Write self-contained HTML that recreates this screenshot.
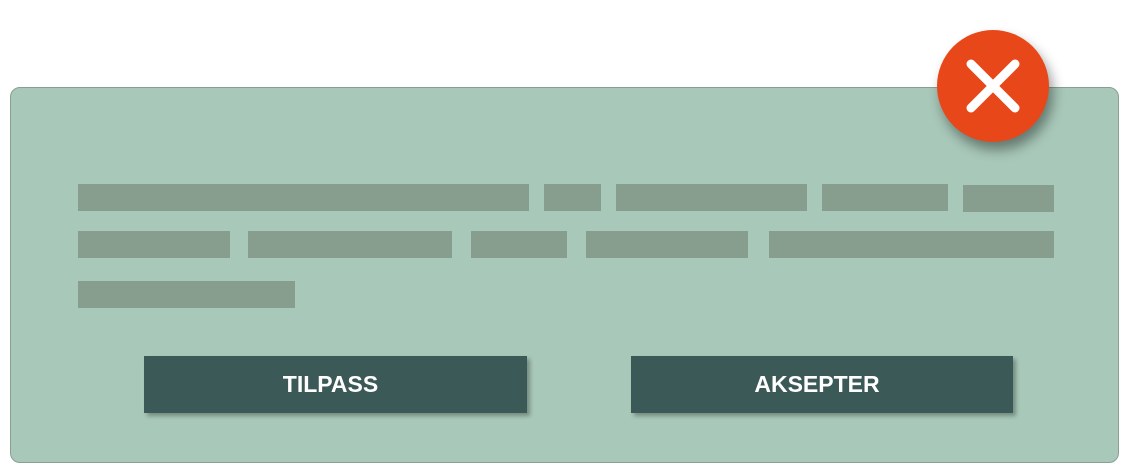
<!DOCTYPE html>
<html><head><style>
body{margin:0;width:1130px;height:470px;background:#fff;position:relative;overflow:hidden;font-family:"Liberation Sans",sans-serif}
.panel{position:absolute;left:10px;top:87px;width:1107px;height:374px;background:#a8c8b9;border:1px solid #8a9e94;border-radius:10px}
.b{position:absolute;background:#879e8f;height:27px}
.btn{position:absolute;top:356px;height:57px;background:#3b5957;color:#fff;font-weight:bold;font-size:23px;display:flex;align-items:center;justify-content:center;box-shadow:3px 3px 4px rgba(0,0,0,.3);padding-right:10px;box-sizing:border-box}
.c{position:absolute;left:937px;top:30px;width:112px;height:112px;border-radius:50%;background:#e8471a;box-shadow:4px 8px 12px rgba(0,0,0,.4)}
</style></head><body>
<div class="panel"></div>
<div class="b" style="left:78px;top:184px;width:451px"></div>
<div class="b" style="left:544px;top:184px;width:57px"></div>
<div class="b" style="left:616px;top:184px;width:191px"></div>
<div class="b" style="left:822px;top:184px;width:126px"></div>
<div class="b" style="left:963px;top:185px;width:91px"></div>
<div class="b" style="left:78px;top:231px;width:152px"></div>
<div class="b" style="left:248px;top:231px;width:204px"></div>
<div class="b" style="left:471px;top:231px;width:96px"></div>
<div class="b" style="left:586px;top:231px;width:162px"></div>
<div class="b" style="left:769px;top:231px;width:285px"></div>
<div class="b" style="left:78px;top:281px;width:217px"></div>
<div class="btn" style="left:144px;width:383px">TILPASS</div>
<div class="btn" style="left:631px;width:382px">AKSEPTER</div>
<div class="c"><svg width="112" height="112"><path d="M34 34L78 78M78 34L34 78" stroke="#fff" stroke-width="9" stroke-linecap="round"/></svg></div>
</body></html>
